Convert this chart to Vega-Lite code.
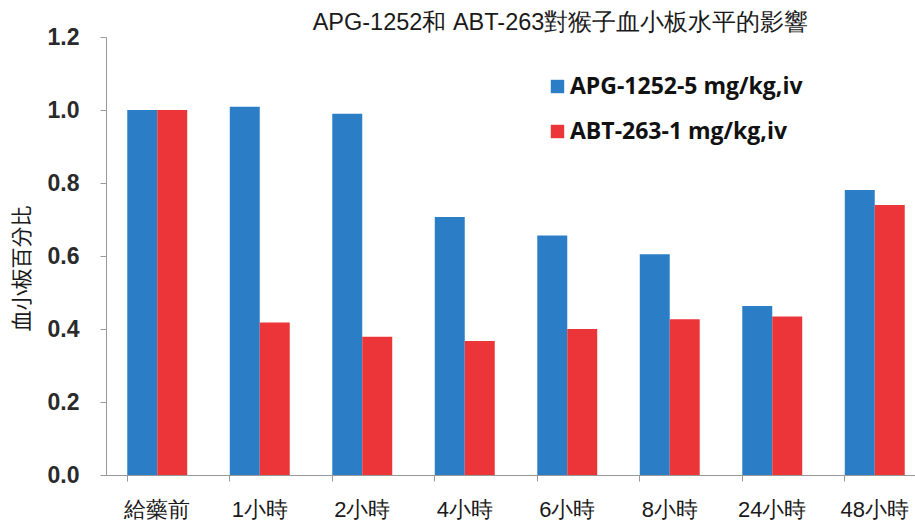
{
  "$schema": "https://vega.github.io/schema/vega-lite/v6.json",
  "autosize": {"type": "none"},
  "width": 809,
  "height": 438,
  "padding": {"left": 106, "top": 37, "right": 0, "bottom": 57},
  "background": "white",
  "title": {
    "text": "APG-1252和 ABT-263對猴子血小板水平的影響",
    "font": "Liberation Sans",
    "fontSize": 23.5,
    "fontWeight": "normal",
    "color": "#1a1a1a",
    "anchor": "middle",
    "dx": 50,
    "offset": -8
  },
  "data": {
    "values": [
      {"time": "給藥前", "series": "APG-1252-5 mg/kg,iv", "value": 1.0},
      {"time": "給藥前", "series": "ABT-263-1 mg/kg,iv", "value": 1.0},
      {"time": "1小時", "series": "APG-1252-5 mg/kg,iv", "value": 1.009},
      {"time": "1小時", "series": "ABT-263-1 mg/kg,iv", "value": 0.418},
      {"time": "2小時", "series": "APG-1252-5 mg/kg,iv", "value": 0.99},
      {"time": "2小時", "series": "ABT-263-1 mg/kg,iv", "value": 0.379},
      {"time": "4小時", "series": "APG-1252-5 mg/kg,iv", "value": 0.707},
      {"time": "4小時", "series": "ABT-263-1 mg/kg,iv", "value": 0.367},
      {"time": "6小時", "series": "APG-1252-5 mg/kg,iv", "value": 0.656},
      {"time": "6小時", "series": "ABT-263-1 mg/kg,iv", "value": 0.4},
      {"time": "8小時", "series": "APG-1252-5 mg/kg,iv", "value": 0.605},
      {"time": "8小時", "series": "ABT-263-1 mg/kg,iv", "value": 0.427},
      {"time": "24小時", "series": "APG-1252-5 mg/kg,iv", "value": 0.463},
      {"time": "24小時", "series": "ABT-263-1 mg/kg,iv", "value": 0.434},
      {"time": "48小時", "series": "APG-1252-5 mg/kg,iv", "value": 0.781},
      {"time": "48小時", "series": "ABT-263-1 mg/kg,iv", "value": 0.74}
    ]
  },
  "mark": {"type": "bar"},
  "encoding": {
    "x": {
      "field": "time",
      "type": "nominal",
      "sort": ["給藥前", "1小時", "2小時", "4小時", "6小時", "8小時", "24小時", "48小時"],
      "scale": {"range": [0, 820], "paddingInner": 0.415, "paddingOuter": 0.2075},
      "axis": {
        "title": null,
        "labelAngle": 0,
        "labelFont": "Liberation Sans",
        "labelFontSize": 22,
        "labelColor": "#1a1a1a",
        "labelPadding": 18,
        "bandPosition": 0,
        "tickSize": 6,
        "tickColor": "#999999",
        "domainColor": "#999999",
        "grid": false
      }
    },
    "xOffset": {
      "field": "series",
      "type": "nominal",
      "sort": ["APG-1252-5 mg/kg,iv", "ABT-263-1 mg/kg,iv"],
      "scale": {"paddingInner": 0, "paddingOuter": 0}
    },
    "y": {
      "field": "value",
      "type": "quantitative",
      "scale": {"domain": [0, 1.2], "nice": false},
      "axis": {
        "title": "血小板百分比",
        "titleFont": "Noto Sans CJK TC",
        "titleFontSize": 21,
        "titleFontWeight": "normal",
        "titleColor": "#1a1a1a",
        "titleX": -74,
        "titleY": 231,
        "titleBaseline": "bottom",
        "titleAngle": 270,
        "values": [0, 0.2, 0.4, 0.6, 0.8, 1.0, 1.2],
        "format": ".1f",
        "labelFont": "Liberation Sans",
        "labelFontSize": 23,
        "labelFontWeight": "bold",
        "labelColor": "#2a2a2a",
        "labelPadding": 21,
        "tickSize": 6,
        "tickColor": "#999999",
        "domainColor": "#999999",
        "grid": false
      }
    },
    "color": {
      "field": "series",
      "type": "nominal",
      "sort": ["APG-1252-5 mg/kg,iv", "ABT-263-1 mg/kg,iv"],
      "scale": {"domain": ["APG-1252-5 mg/kg,iv", "ABT-263-1 mg/kg,iv"], "range": ["#2b7ec6", "#ec3538"]},
      "legend": {
        "title": null,
        "orient": "none",
        "legendX": 440,
        "legendY": 38,
        "symbolType": "square",
        "symbolSize": 180,
        "symbolStrokeWidth": 0,
        "labelFont": "Open Sans",
        "labelFontSize": 23,
        "labelFontWeight": "bold",
        "labelColor": "#111111",
        "labelOffset": 1,
        "labelLimit": 0,
        "rowPadding": 21
      }
    }
  },
  "config": {
    "view": {"stroke": null}
  }
}
